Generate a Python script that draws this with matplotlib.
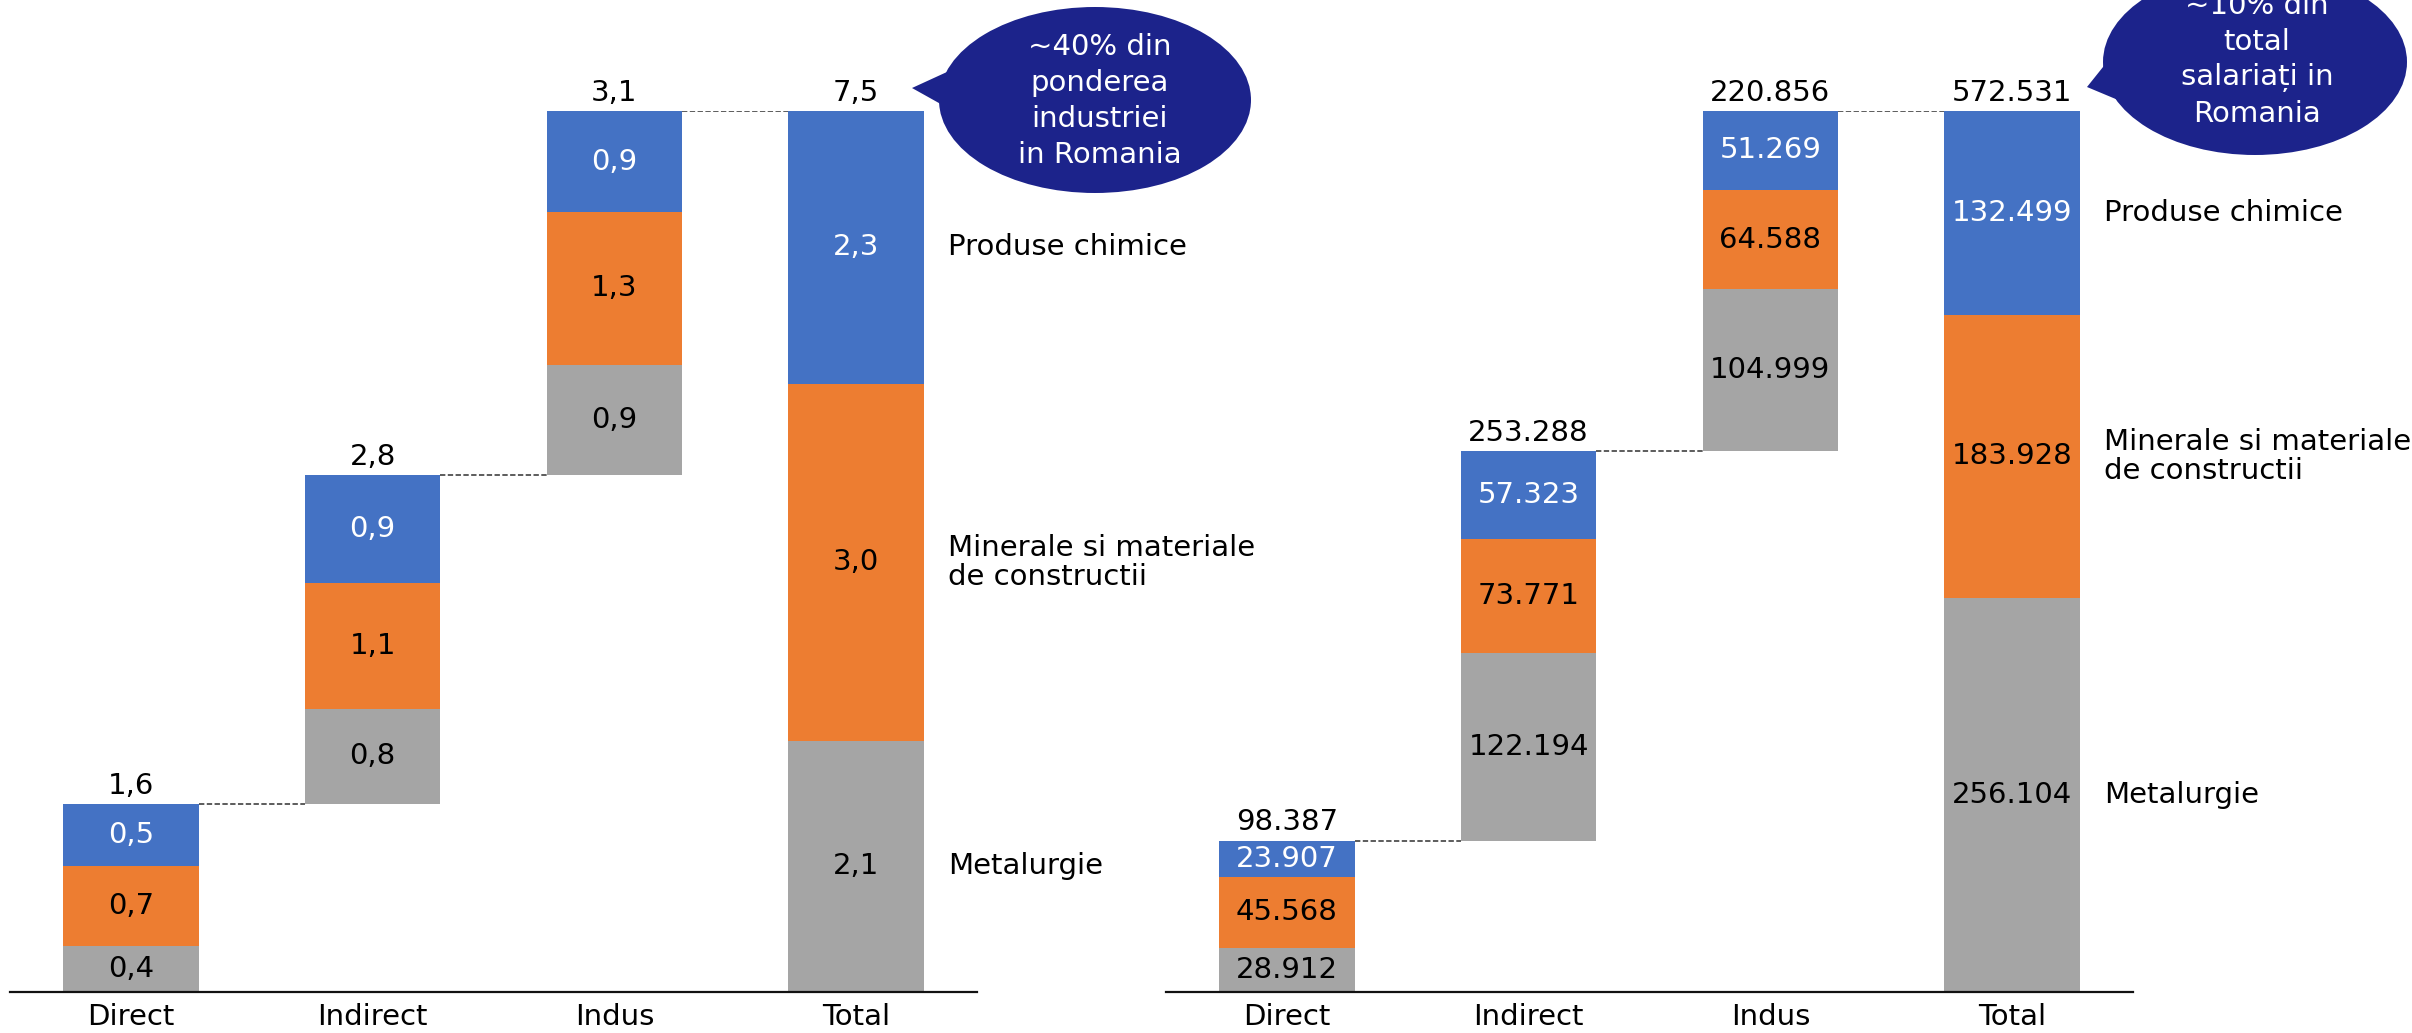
import matplotlib
matplotlib.use("Agg")
import matplotlib.pyplot as plt
from matplotlib.patches import Ellipse, Polygon

plt.rcParams['font.family'] = ['DejaVu Sans']

# ---------------- data ----------------
categories = ['Direct', 'Indirect', 'Indus', 'Total']
series_names = ['Metalurgie', 'Minerale si materiale\nde constructii', 'Produse chimice']

left_metalurgie = [0.39, 0.81, 0.94, 2.14]
left_minerale = [0.68, 1.07, 1.30, 3.04]
left_chimice = [0.53, 0.92, 0.86, 2.32]

right_metalurgie = [28912, 122194, 104999, 256104]
right_minerale = [45568, 73771, 64588, 183928]
right_chimice = [23907, 57323, 51269, 132499]

left_callout = '~40% din\nponderea\nindustriei\nin Romania'
right_callout = '~10% din\ntotal\nsalariați in\nRomania'

# ---------------- style ----------------
C_GRAY = '#A5A5A5'
C_ORANGE = '#ED7D31'
C_BLUE = '#4472C4'
C_NAVY = '#1C238B'
FS = 21
W, H = 2412, 1033
BAR_W = 0.56


def fmt_left(v):
    return f"{v:.1f}".replace('.', ',')


def fmt_right(v):
    return f"{int(round(v)):,}".replace(',', '.')


def draw_panel(ax, metal, miner, chim, fmt):
    n = len(categories)
    totals = [metal[i] + miner[i] + chim[i] for i in range(n)]
    bases = []
    run = 0.0
    for i in range(n - 1):
        bases.append(run)
        run += totals[i]
    bases.append(0.0)
    xs = list(range(n))
    layers = [(metal, C_GRAY, 'black'), (miner, C_ORANGE, 'black'), (chim, C_BLUE, 'white')]
    for i in xs:
        bottom = bases[i]
        for vals, col, tcol in layers:
            ax.bar(i, vals[i], bottom=bottom, width=BAR_W, color=col, zorder=2)
            ax.text(i, bottom + vals[i] / 2, fmt(vals[i]), ha='center', va='center',
                    color=tcol, fontsize=FS, zorder=3)
            bottom += vals[i]
        ax.annotate(fmt(totals[i]), (i, bases[i] + totals[i]), xytext=(0, 3),
                    textcoords='offset points', ha='center', va='bottom', fontsize=FS)
    # dashed connectors
    for i in range(n - 1):
        y = bases[i] + totals[i]
        ax.plot([i + BAR_W / 2, i + 1 - BAR_W / 2], [y, y], color='#303030',
                lw=1.1, dashes=(3.5, 1.6), zorder=1)
    # series labels next to total bar
    last = n - 1
    bottom = 0.0
    for (vals, _, _), name in zip(layers, series_names):
        ax.text(last + BAR_W / 2 + 0.1, bottom + vals[last] / 2, name, ha='left',
                va='center', fontsize=FS, linespacing=1.05, clip_on=False)
        bottom += vals[last]
    ax.set_xlim(-0.5, 3.5)
    ax.set_ylim(0, totals[-1])
    ax.set_xticks(xs)
    ax.set_xticklabels(categories, fontsize=FS)
    ax.tick_params(axis='x', length=0, pad=8)
    ax.set_yticks([])
    ax.patch.set_visible(False)
    for s in ['left', 'right', 'top']:
        ax.spines[s].set_visible(False)
    ax.spines['bottom'].set_linewidth(1.6)
    ax.spines['bottom'].set_color('#111111')


fig = plt.figure(figsize=(W / 100, H / 100), dpi=100)
axL = fig.add_axes([10 / W, 41 / H, 967 / W, 881 / H])
axR = fig.add_axes([1166 / W, 41 / H, 967 / W, 881 / H])

draw_panel(axL, left_metalurgie, left_minerale, left_chimice, fmt_left)
draw_panel(axR, right_metalurgie, right_minerale, right_chimice, fmt_right)


def P(x, y):
    return (x / W, 1 - y / H)


def callout(cx, cy, ew, eh, tail, text, tx, ty):
    fig.add_artist(Ellipse(P(cx, cy), ew / W, eh / H, transform=fig.transFigure,
                           facecolor=C_NAVY, edgecolor='none', zorder=5))
    fig.add_artist(Polygon([P(*p) for p in tail], closed=True, transform=fig.transFigure,
                           facecolor=C_NAVY, edgecolor='none', zorder=5))
    fig.text(*P(tx, ty), text, ha='center', va='center', color='white',
             fontsize=FS, linespacing=1.36, zorder=6)


callout(1095, 100, 312, 186, [(960, 66), (912, 88), (955, 112)], left_callout, 1100, 101)
callout(2255, 62, 304, 186, [(2111, 57), (2087, 87), (2130, 105)], right_callout, 2257, 60)

fig.savefig('out.png', dpi=100)
